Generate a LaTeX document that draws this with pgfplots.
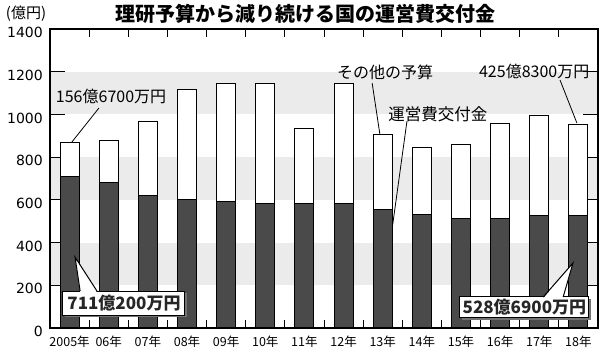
\documentclass[border=0pt]{standalone}
\usepackage{fontspec}
\setmainfont{Noto Sans CJK JP}
\newfontfamily\tickfont{DejaVu Sans}
\usepackage{pgfplots}
\pgfplotsset{compat=1.18}
\definecolor{darkbar}{HTML}{4A4A4A}
\definecolor{band}{HTML}{EBEBEB}
\pgfplotstableread{
x grant other
0 711.02 156.67
1 681 197
2 621 346
3 601 514
4 593 553
5 583 563
6 585 351
7 581 565
8 556 350
9 531 313
10 514 343
11 515 441
12 527 467
13 528.69 425.83
}\datatable
\begin{document}
\begin{tikzpicture}
\useasboundingbox (0pt,0pt) rectangle (600pt,353pt);
\fill[band] (50pt,67.714pt) rectangle (598pt,110.43pt);
\fill[band] (50pt,153.14pt) rectangle (598pt,195.86pt);
\fill[band] (50pt,238.57pt) rectangle (598pt,281.29pt);
\node[font=\bfseries\fontsize{20pt}{20pt}\selectfont] at (305pt,339pt) {理研予算から減り続ける国の運営費交付金};
\node[font=\fontsize{15pt}{15pt}\selectfont, inner sep=0pt] at (26pt,339pt) {(億円)};
\begin{axis}[
 at={(50pt,25pt)}, anchor=south west,
 scale only axis, width=548pt, height=299pt,
 xmin=-0.5, xmax=13.5, ymin=0, ymax=1400,
 ybar stacked, bar width=19pt,
 axis line style={line width=1.2pt},
 tick align=inside,
 xtick={0,...,13},
 xticklabels={2005年,06年,07年,08年,09年,10年,11年,12年,13年,14年,15年,16年,17年,18年},
 minor xtick={0.5,1.5,...,12.5},
 ytick={0,200,...,1400},
 major tick length=15pt, minor tick length=8pt,
 major x tick style={draw=none},
 every tick/.style={black, line width=1pt},
 /pgf/number format/1000 sep={},
 /pgf/number format/assume math mode=true,
 xticklabel style={font=\fontsize{12.5pt}{12.5pt}\selectfont, anchor=base, yshift=-19pt, inner sep=0pt},
 yticklabel style={font=\tickfont\fontsize{14pt}{14pt}\selectfont, anchor=east, inner sep=0pt, xshift=-7pt, yshift=-3.5pt},
 clip=false,
]
\addplot[fill=darkbar, draw=black, line width=1pt] table[x=x, y=grant] {\datatable};
\addplot[fill=white, draw=black, line width=1pt] table[x=x, y=other] {\datatable};
% annotations
\node[font=\fontsize{16pt}{16pt}\selectfont] at (axis cs:1.06,1082) {156億6700万円};
\draw[line width=0.8pt] (axis cs:0.75,1030) -- (axis cs:0.06,871);
\node[font=\fontsize{16pt}{16pt}\selectfont] at (axis cs:8.06,1199) {その他の予算};
\draw[line width=0.8pt] (axis cs:7.73,1147) -- (axis cs:7.93,904);
\node[font=\fontsize{16.5pt}{16.5pt}\selectfont] at (axis cs:9.41,1002) {運営費交付金};
\draw[line width=0.8pt] (axis cs:8.62,969) -- (axis cs:8.24,464);
\node[font=\fontsize{16pt}{16pt}\selectfont] at (axis cs:11.87,1199) {425億8300万円};
\draw[line width=0.8pt] (axis cs:12.53,1161) -- (axis cs:12.96,960);
% callout anchor coordinates
\coordinate (A) at (axis cs:1.39,117);
\coordinate (At) at (axis cs:0.14,332);
\coordinate (Al) at (axis cs:0.27,173);
\coordinate (Ar) at (axis cs:0.70,173);
\coordinate (B) at (axis cs:11.62,96);
\coordinate (Bt) at (axis cs:12.86,304);
\coordinate (Bl) at (axis cs:12.10,145);
\coordinate (Br) at (axis cs:12.61,145);
\end{axis}
% callout boxes drawn on top of bars
\node[fill=black!55, minimum width=122pt, minimum height=24pt, inner sep=0pt, xshift=2pt, yshift=-2pt] at (A) {};
\node[draw=black, fill=white, line width=1pt, minimum width=122pt, minimum height=24pt, inner sep=0pt,
 font=\bfseries\fontsize{17pt}{17pt}\selectfont, text=black!85] at (A) {711億200万円};
\fill[white] (At) -- ([yshift=-1.5pt]Al) -- ([yshift=-1.5pt]Ar) -- cycle;
\draw[line width=1pt] (Al) -- (At) -- (Ar);
\node[fill=black!55, minimum width=129pt, minimum height=21pt, inner sep=0pt, xshift=2pt, yshift=-2pt] at (B) {};
\node[draw=black, fill=white, line width=1pt, minimum width=129pt, minimum height=21pt, inner sep=0pt,
 font=\bfseries\fontsize{17pt}{17pt}\selectfont, text=black!85] at (B) {528億6900万円};
\fill[white] (Bt) -- ([yshift=-1.5pt]Bl) -- ([yshift=-1.5pt]Br) -- cycle;
\draw[line width=1pt] (Bl) -- (Bt) -- (Br);
\end{tikzpicture}
\end{document}
